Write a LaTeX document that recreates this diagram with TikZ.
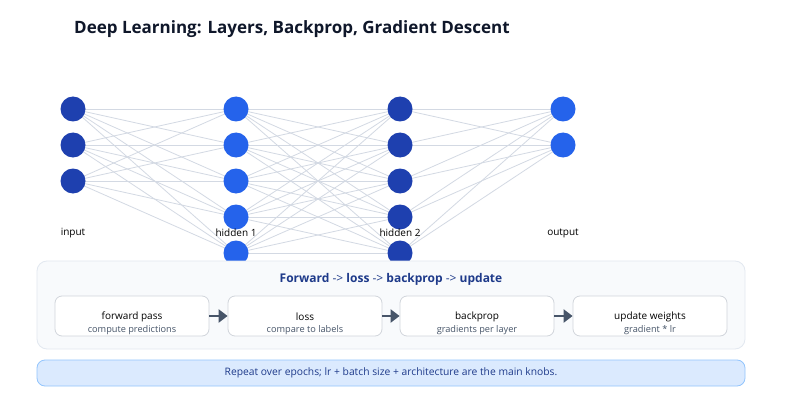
\documentclass[tikz,border=0pt]{standalone}
\usepackage{fontspec}
\setmainfont{Open Sans}
\usetikzlibrary{arrows.meta,backgrounds}
\definecolor{darkblue}{HTML}{1E40AF}
\definecolor{midblue}{HTML}{2563EB}
\definecolor{edgegray}{HTML}{D3D9E3}
\definecolor{titlecol}{HTML}{0F172A}
\definecolor{navy}{HTML}{1E3A8A}
\definecolor{panelfill}{HTML}{F8FAFC}
\definecolor{panelline}{HTML}{E2E8F0}
\definecolor{boxline}{HTML}{D1D5DB}
\definecolor{arrowcol}{HTML}{475569}
\definecolor{bannerfill}{HTML}{DBEAFE}
\definecolor{bannerline}{HTML}{93C5FD}
\definecolor{subtext}{HTML}{475569}
\tikzset{
  neuronA/.style={circle,fill=darkblue,minimum size=25pt,inner sep=0pt},
  neuronB/.style={circle,fill=midblue,minimum size=25pt,inner sep=0pt},
  conn/.style={draw=edgegray,line width=0.8pt},
  laylabel/.style={font=\fontsize{10}{12}\selectfont,text=black},
  stepbox/.style={draw=boxline,fill=white,rounded corners=7pt,minimum width=154pt,minimum height=40pt,line width=0.8pt,inner sep=0pt},
  flowarrow/.style={draw=arrowcol,line width=2.6pt,-{Triangle[length=9pt,width=13pt]}}
}
\begin{document}
\begin{tikzpicture}[x=1pt,y=-1pt]
\useasboundingbox (0,0) rectangle (800,409);
\node[anchor=base west,font=\fontsize{17}{20}\selectfont\bfseries,text=titlecol,inner sep=0pt] (title) at (74,34) {Deep Learning: Layers, Backprop, Gradient Descent};
% neurons
\foreach \k/\y in {1/109,2/145,3/181} {
  \node[neuronA] (i\k) at (73,\y) {};
}
\foreach \k/\y in {1/109,2/145,3/181,4/217,5/253} {
  \node[neuronB] (a\k) at (236,\y) {};
  \node[neuronA] (b\k) at (400,\y) {};
}
\foreach \k/\y in {1/109,2/145} {
  \node[neuronB] (o\k) at (563,\y) {};
}
% edges
\begin{pgfonlayer}{background}
\fill[white] (0,0) rectangle (800,409);
\foreach \s in {1,2,3} \foreach \t in {1,...,5} { \draw[conn] (i\s.center) -- (a\t.center); }
\foreach \s in {1,...,5} \foreach \t in {1,...,5} { \draw[conn] (a\s.center) -- (b\t.center); }
\foreach \s in {1,...,5} \foreach \t in {1,2} { \draw[conn] (b\s.center) -- (o\t.center); }
\end{pgfonlayer}
% layer labels
\node[laylabel] (l1) at (73,233) {input};
\node[laylabel] (l2) at (236,233) {hidden 1};
\node[laylabel] (l3) at (400,233) {hidden 2};
\node[laylabel] (l4) at (563,233) {output};
% panel
\node[draw=panelline,fill=panelfill,rounded corners=10pt,line width=0.8pt,minimum width=708pt,minimum height=88pt,inner sep=0pt] (panel) at (391,305) {};
\node[font=\fontsize{12}{14}\selectfont\bfseries,text=navy] (ptitle) at (391,279) {Forward {\mdseries->} loss {\mdseries->} backprop {\mdseries->} update};
% step boxes
\node[stepbox] (s1) at (132,316) {};
\node[stepbox] (s2) at (305,316) {};
\node[stepbox] (s3) at (477,316) {};
\node[stepbox] (s4) at (650,316) {};
\foreach \n/\a/\b in {s1/forward pass/compute predictions,s2/loss/compare to labels,s3/backprop/gradients per layer,s4/update weights/gradient * lr} {
  \node[font=\fontsize{10}{12}\selectfont,text=black] at ([yshift=-1pt]\n.center) {\a};
  \node[font=\fontsize{9.2}{11}\selectfont,text=subtext] at ([yshift=-14.5pt]\n.center) {\b};
}
\draw[flowarrow] (s1) -- (s2);
\draw[flowarrow] (s2) -- (s3);
\draw[flowarrow] (s3) -- (s4);
% banner
\node[draw=bannerline,fill=bannerfill,rounded corners=8pt,line width=0.8pt,minimum width=708pt,minimum height=26pt,inner sep=0pt,font=\fontsize{10.3}{12}\selectfont,text=navy] (banner) at (391,373) {Repeat over epochs; lr + batch size + architecture are the main knobs.};
\end{tikzpicture}
\end{document}
